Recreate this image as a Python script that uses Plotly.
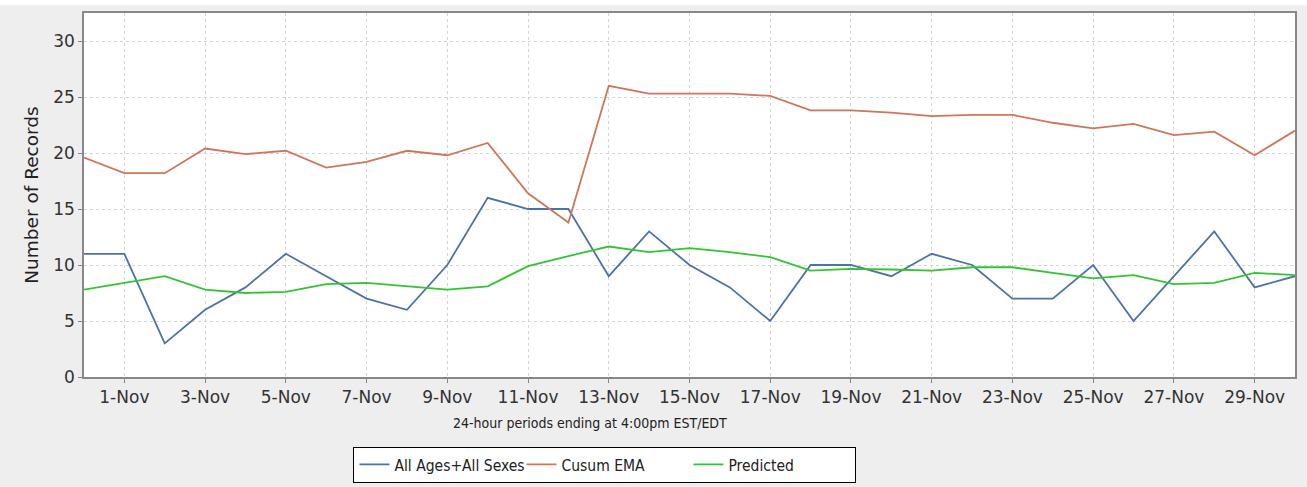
import plotly.graph_objects as go
import pandas as pd

dates = pd.date_range("2014-10-31", "2014-11-30", freq="D")

all_ages = [11, 11, 3, 6, 8, 11, 9, 7, 6, 10, 16, 15, 15, 9, 13, 10, 8, 5, 10, 10,
            9, 11, 10, 7, 7, 10, 5, 9, 13, 8, 9]
cusum_ema = [19.6, 18.2, 18.2, 20.4, 19.9, 20.2, 18.7, 19.2, 20.2, 19.8, 20.9, 16.4,
             13.8, 26.0, 25.3, 25.3, 25.3, 25.1, 23.8, 23.8, 23.6, 23.3, 23.4, 23.4,
             22.7, 22.2, 22.6, 21.6, 21.9, 19.8, 22.0]
predicted = [7.8, 8.4, 9.0, 7.8, 7.5, 7.6, 8.3, 8.4, 8.1, 7.8, 8.1, 9.9, 10.8, 11.65,
             11.15, 11.5, 11.15, 10.7, 9.5, 9.65, 9.6, 9.5, 9.8, 9.8, 9.3, 8.8, 9.1,
             8.3, 8.4, 9.3, 9.1]

series_names = ["All Ages+All Sexes", "Cusum EMA", "Predicted"]
x_title = "24-hour periods ending at 4:00pm EST/EDT"
y_title = "Number of Records"
colors = ["#4d72a6", "#cf7659", "#33c433"]

font_main = "DejaVu Sans"
font_cond = "DejaVu Sans Condensed, DejaVu Sans"

fig = go.Figure()
for name, vals, col in zip(series_names, [all_ages, cusum_ema, predicted], colors):
    fig.add_trace(go.Scatter(x=dates, y=vals, mode="lines", name=name,
                             line=dict(color=col, width=1.8)))

fig.add_annotation(
    text=x_title, xref="paper", yref="paper",
    x=0.418, y=-0.126, xanchor="center", yanchor="middle",
    showarrow=False,
    font=dict(family=font_cond, size=14, color="#222222"),
)

fig.update_layout(
    width=1307, height=487,
    margin=dict(l=84, r=12, t=8, b=115, autoexpand=False),
    paper_bgcolor="#eeeeee",
    plot_bgcolor="white",
    font=dict(family=font_main, size=14, color="#333333"),
    showlegend=True,
    legend=dict(
        orientation="h",
        x=0.2225, xanchor="left",
        y=-0.192, yanchor="top",
        bgcolor="white",
        bordercolor="black",
        borderwidth=1,
        font=dict(family=font_cond, size=15.5, color="#222222"),
        entrywidth=122,
        itemwidth=30,
        tracegroupgap=0,
    ),
    xaxis=dict(
        range=[dates[0], dates[-1]],
        tickformat="%-d-%b",
        tick0="2014-11-01",
        dtick=2 * 86400000,
        showgrid=True,
        gridcolor="#d4d4d4",
        griddash="3px,3px",
        gridwidth=1,
        showline=True,
        linecolor="#888888",
        linewidth=1.5,
        mirror=True,
        ticks="outside",
        ticklen=4,
        tickcolor="#888888",
        automargin=False,
        tickfont=dict(family=font_main, size=17, color="#333333"),
        zeroline=False,
    ),
    yaxis=dict(
        range=[0, 32.5],
        tickvals=[0, 5, 10, 15, 20, 25, 30],
        showgrid=True,
        gridcolor="#d4d4d4",
        griddash="3px,3px",
        gridwidth=1,
        showline=True,
        linecolor="#888888",
        linewidth=1.5,
        mirror=True,
        ticks="outside",
        ticklen=4,
        tickcolor="#888888",
        automargin=False,
        tickfont=dict(family=font_main, size=17, color="#333333"),
        title=dict(text=y_title,
                   font=dict(family=font_main, size=18.5, color="#222222"),
                   standoff=10),
        zeroline=False,
    ),
)

fig.write_html(
    "out.html",
    config={"displayModeBar": False},
    post_script=("document.body.style.margin='0';"
                 "document.body.style.marginTop='5px';"
                 "document.body.style.background='white';"
                 "document.body.style.overflow='hidden';"),
)
